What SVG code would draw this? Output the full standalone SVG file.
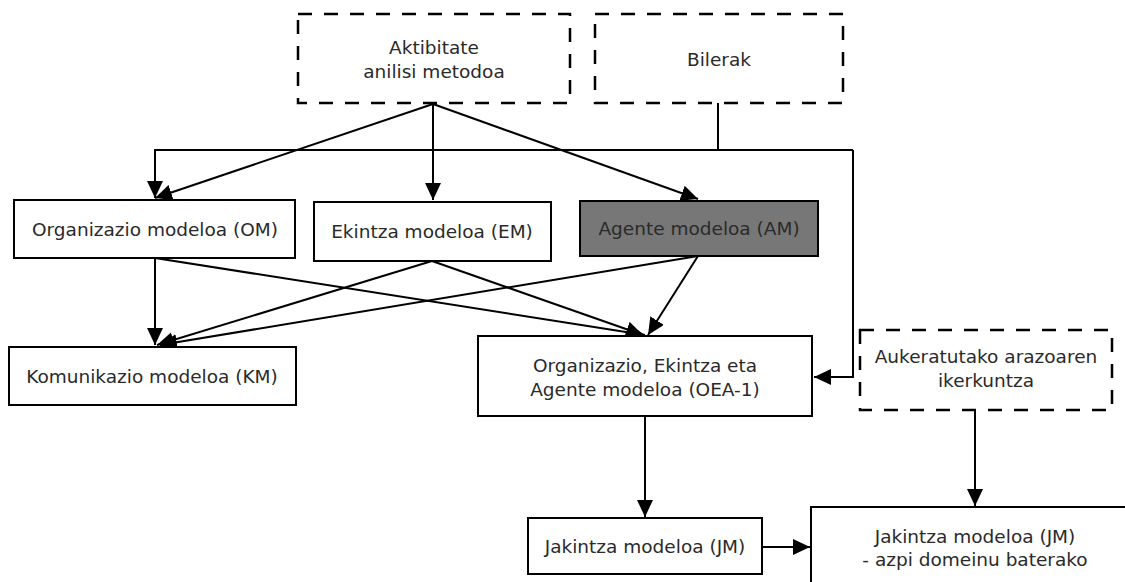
<svg xmlns="http://www.w3.org/2000/svg" width="1125" height="582" viewBox="0 0 1125 582">
<defs>
<marker id="arr" markerUnits="userSpaceOnUse" markerWidth="18" markerHeight="16" refX="17" refY="8" orient="auto">
<path d="M0,0 L17,8 L0,16 z" fill="#000"/>
</marker>
<style>
.box{fill:#fff;stroke:#000;stroke-width:2}
.dash{fill:#fff;stroke:#000;stroke-width:2.5;stroke-dasharray:14,12}
.dark{fill:#777;stroke:#000;stroke-width:2}
.t{font-family:"DejaVu Sans",sans-serif;font-size:18.5px;fill:#2a2a2a;text-anchor:middle}
.c{fill:none;stroke:#000;stroke-width:2}
</style>
</defs>
<rect width="1125" height="582" fill="#fff"/>
<g id="connectors">
<path class="c" d="M433,104 L155,198" marker-end="url(#arr)"/>
<path class="c" d="M433,104 L433,200" marker-end="url(#arr)"/>
<path class="c" d="M433,104 L698,199" marker-end="url(#arr)"/>
<path class="c" d="M718,103 L718,150"/>
<path class="c" d="M853,150 L155,150 L155,198" marker-end="url(#arr)"/>
<path class="c" d="M853,150 L853,377 L814,377" marker-end="url(#arr)"/>
<path class="c" d="M155,258 L155,345" marker-end="url(#arr)"/>
<path class="c" d="M155,258 L645,335" marker-end="url(#arr)"/>
<path class="c" d="M432,261 L157,345" marker-end="url(#arr)"/>
<path class="c" d="M432,261 L643,335" marker-end="url(#arr)"/>
<path class="c" d="M698,256 L160,345" marker-end="url(#arr)"/>
<path class="c" d="M698,256 L648,335" marker-end="url(#arr)"/>
<path class="c" d="M645,416 L645,517" marker-end="url(#arr)"/>
<path class="c" d="M975,410 L975,506" marker-end="url(#arr)"/>
<path class="c" d="M762,547 L810,547" marker-end="url(#arr)"/>
</g>
<g id="aktibitate">
<rect class="dash" x="298" y="14" width="272" height="89"/>
<text class="t" x="434" y="54">Aktibitate</text>
<text class="t" x="434" y="78">anilisi metodoa</text>
</g>
<g id="bilerak">
<rect class="dash" x="595" y="14" width="248" height="89"/>
<text class="t" x="719" y="66">Bilerak</text>
</g>
<g id="om">
<rect class="box" x="14" y="200" width="281" height="58"/>
<text class="t" x="155" y="236">Organizazio modeloa (OM)</text>
</g>
<g id="em">
<rect class="box" x="314" y="202" width="237" height="59"/>
<text class="t" x="432" y="238">Ekintza modeloa (EM)</text>
</g>
<g id="am">
<rect class="dark" x="580" y="201" width="238" height="55"/>
<text class="t" x="699" y="235">Agente modeloa (AM)</text>
</g>
<g id="km">
<rect class="box" x="9" y="347" width="287" height="58"/>
<text class="t" x="152" y="383">Komunikazio modeloa (KM)</text>
</g>
<g id="oea">
<rect class="box" x="478" y="336" width="334" height="80"/>
<text class="t" x="645" y="372">Organizazio, Ekintza eta</text>
<text class="t" x="645" y="396">Agente modeloa (OEA-1)</text>
</g>
<g id="aukeratutako">
<rect class="dash" x="860" y="330" width="252" height="80"/>
<text class="t" x="986" y="363">Aukeratutako arazoaren</text>
<text class="t" x="986" y="387">ikerkuntza</text>
</g>
<g id="jm">
<rect class="box" x="528" y="518" width="234" height="56"/>
<text class="t" x="645" y="553">Jakintza modeloa (JM)</text>
</g>
<g id="jm-azpi">
<rect class="box" x="811" y="507" width="330" height="100"/>
<text class="t" x="975" y="543">Jakintza modeloa (JM)</text>
<text class="t" x="975" y="566">- azpi domeinu baterako</text>
</g>
</svg>
